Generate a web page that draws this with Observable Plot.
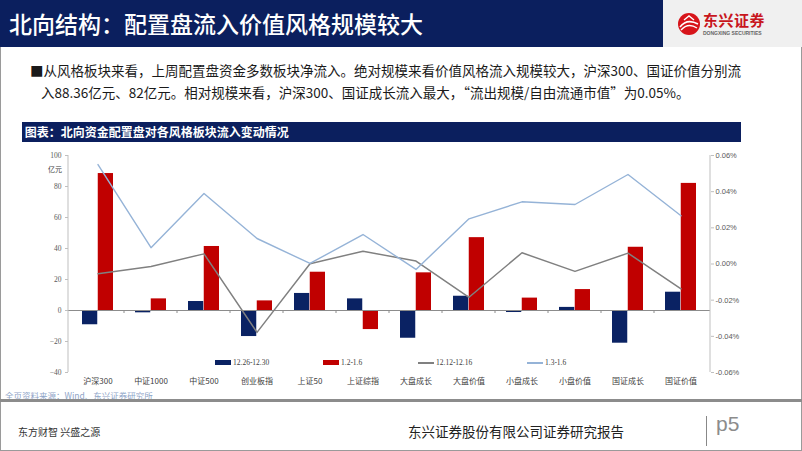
<!DOCTYPE html>
<html><head><meta charset="utf-8">
<script src="https://cdn.jsdelivr.net/npm/d3@7"></script>
<script src="https://cdn.jsdelivr.net/npm/@observablehq/plot@0.6"></script>
<style>
html,body{margin:0;padding:0;}
body{width:802px;height:451px;position:relative;overflow:hidden;background:#fff;font-family:"Noto Sans CJK SC",sans-serif;}
.abs{position:absolute;white-space:nowrap;}
#border{left:0;top:0;width:800px;height:449px;border:1px solid #9a9a9a;}
#head{left:0;top:0;width:663px;height:47px;background:#0b1f5e;}
#headTitle{left:9px;top:7px;font-size:23px;line-height:32px;color:#fff;font-weight:500;}
#logoBox{left:663px;top:0;width:139px;height:47px;background:#f0f0f0;}
#logoText{left:703px;top:11px;font-size:15px;font-weight:700;color:#c8161d;line-height:18px;letter-spacing:0.5px;}
#logoSub{left:703px;top:30px;font-size:5px;color:#666;font-family:"Liberation Sans";font-weight:700;line-height:6px;}
#bullet{left:30px;top:59px;font-size:13.5px;line-height:22px;color:#1a1a1a;}
#ctitle{left:22px;top:122px;width:719px;height:20px;background:#0b1f5e;color:#fff;font-size:12px;font-weight:700;line-height:20px;}
#chart{left:0;top:145px;}
#unit{left:48px;top:164px;font-size:7px;color:#404040;}
#legend{left:215px;top:358px;font-family:"Liberation Serif";font-size:7.5px;color:#404040;display:flex;}
.li{display:flex;align-items:center;}
.sw{display:inline-block;width:16px;margin-right:2px;}
#source{left:5px;top:389px;font-size:8.5px;color:#8fa5c8;}
#rule{left:0;top:399px;width:802px;height:3px;background:#8c8c8c;}
#foot1{left:18px;top:424px;font-size:10px;color:#333;}
#foot2{left:408px;top:421px;font-size:13.5px;color:#222;}
#vbar{left:706px;top:416px;width:1px;height:30px;background:#888;}
#p5{left:716px;top:412px;font-size:21px;color:#8c8c8c;font-family:"Liberation Sans";}
</style></head>
<body>
<div class="abs" id="border"></div>
<div class="abs" id="head"></div>
<div class="abs" id="headTitle">北向结构：配置盘流入价值风格规模较大</div>
<div class="abs" id="logoBox"></div>
<svg class="abs" style="left:677px;top:12px" width="24" height="24" viewBox="0 0 24 24">
  <circle cx="12" cy="12" r="11" fill="#d7141a"/>
  <path d="M3 15 Q10 6 21 12" stroke="#fff" stroke-width="1.6" fill="none"/>
  <path d="M4 18 Q11 10 20 16" stroke="#fff" stroke-width="1.4" fill="none"/>
  <path d="M7 8 L12 4 L17 8" stroke="#fff" stroke-width="1.4" fill="none"/>
</svg>
<div class="abs" id="logoText">东兴证券</div>
<div class="abs" id="logoSub">DONGXING SECURITIES</div>
<div class="abs" id="bullet">■从风格板块来看，上周配置盘资金多数板块净流入。绝对规模来看价值风格流入规模较大，沪深300、国证价值分别流<br><span style="padding-left:11px">入88.36亿元、82亿元。相对规模来看，沪深300、国证成长流入最大，“流出规模/自由流通市值”为0.05%。</span></div>
<div class="abs" id="ctitle">&nbsp;图表：北向资金配置盘对各风格板块流入变动情况</div>
<div class="abs" id="chart"></div>
<div class="abs" id="unit">亿元</div>
<div class="abs" id="legend"></div>
<div class="abs" id="source">全页资料来源：Wind、东兴证券研究所</div>
<div class="abs" id="rule"></div>
<div class="abs" id="foot1">东方财智 兴盛之源</div>
<div class="abs" id="foot2">东兴证券股份有限公司证券研究报告</div>
<div class="abs" id="vbar"></div>
<div class="abs" id="p5">p5</div>
<script>
const categories = ["沪深300","中证1000","中证500","创业板指","上证50","上证综指","大盘成长","大盘价值","小盘成长","小盘价值","国证成长","国证价值"];
const flow1226 = [-9.2,-1.5,5.8,-16.8,11,7.5,-17.9,9.2,-1.3,2,-21.1,11.8];      // 亿元
const flow0102 = [88.36,7.5,41.3,6.2,24.7,-12.3,24.3,47,8,13.5,40.8,82];        // 亿元
const ratio1212 = [-0.0054,-0.0014,0.0056,-0.0378,0.0001,0.0071,0.0016,-0.0184,0.0062,-0.0041,0.006,-0.0137]; // %
const ratio0103 = [0.055,0.009,0.039,0.0141,0.0003,0.0163,-0.003,0.025,0.0344,0.0329,0.0495,0.0267];          // %
const seriesNames = ["12.26-12.30","1.2-1.6","12.12-12.16","1.3-1.6"];
const leftTicks = [-40,-20,0,20,40,60,80,100];
const rightTicks = [-0.06,-0.04,-0.02,0,0.02,0.04,0.06];

const colors = {"12.26-12.30":"#0a2263","1.2-1.6":"#c00000","12.12-12.16":"#808080","1.3-1.6":"#95b3d7"};

// map right-axis (%) values onto left-axis units
const L0 = leftTicks[0], L1 = leftTicks[leftTicks.length-1];
const R0 = rightTicks[0], R1 = rightTicks[rightTicks.length-1];
const toLeft = r => L0 + (r - R0) / (R1 - R0) * (L1 - L0);
const fromLeft = v => R0 + (v - L0) / (L1 - L0) * (R1 - R0);

const bars1 = categories.map((c,i)=>({c, v: flow1226[i]}));
const bars2 = categories.map((c,i)=>({c, v: flow0102[i]}));
const line1 = categories.map((c,i)=>({c, v: toLeft(ratio1212[i])}));
const line2 = categories.map((c,i)=>({c, v: toLeft(ratio0103[i])}));

function axisLines(index, scales, values, dims) {
  const {width, height, marginLeft, marginRight, marginTop, marginBottom} = dims;
  const g = d3.create("svg:g").attr("stroke", "#bfbfbf").attr("stroke-width", 1);
  g.append("line").attr("x1", marginLeft).attr("x2", marginLeft).attr("y1", marginTop).attr("y2", height - marginBottom);
  g.append("line").attr("x1", width - marginRight).attr("x2", width - marginRight).attr("y1", marginTop).attr("y2", height - marginBottom);
  const y0 = scales.y(0);
  categories.forEach((c,i)=>{ if (i>0) { const x = scales.x(c); g.append("line").attr("x1",x).attr("x2",x).attr("y1",y0).attr("y2",y0+3).attr("stroke","#8c8c8c"); }});
  return g.node();
}

const chart = Plot.plot({
  width: 802, height: 245,
  marginLeft: 68, marginRight: 92, marginTop: 10, marginBottom: 18,
  style: {background: "transparent"},
  x: {type: "band", domain: categories, padding: 0, label: null},
  y: {domain: [L0, L1], label: null},
  marks: [
    Plot.barY(bars1, {x: "c", y: "v", fill: colors["12.26-12.30"], insetLeft: 11, insetRight: 26.75}),
    Plot.barY(bars2, {x: "c", y: "v", fill: colors["1.2-1.6"], insetLeft: 26.75, insetRight: 11}),
    Plot.ruleY([0], {stroke: "#8c8c8c", strokeWidth: 1.2}),
    Plot.line(line1, {x: "c", y: "v", stroke: colors["12.12-12.16"], strokeWidth: 1.5}),
    Plot.line(line2, {x: "c", y: "v", stroke: colors["1.3-1.6"], strokeWidth: 1.4}),
    axisLines,
    Plot.axisY({anchor: "left", ticks: leftTicks, tickSize: 3, tickPadding: 4, fontSize: 7.5, fontFamily: "Liberation Serif", fill: "#595959", stroke: "#bfbfbf", label: null}),
    Plot.axisY(rightTicks.map(toLeft), {anchor: "right", tickSize: 3, tickPadding: 2, fontSize: 7.5, fontFamily: "Liberation Sans", fill: "#595959", stroke: "#bfbfbf", label: null, tickFormat: v => fromLeft(v).toFixed(2) + "%"}),
    Plot.axisX({anchor: "bottom", tickSize: 0, tickPadding: 6, fontSize: 8, fontFamily: "Noto Sans CJK SC", fill: "#404040", label: null})
  ]
});
document.getElementById("chart").appendChild(chart);

// legend
const legend = document.getElementById("legend");
const slotWidths = [108, 95, 109, 60];
seriesNames.forEach((s,i)=>{
  const item = document.createElement("div");
  item.className = "li";
  item.style.width = slotWidths[i] + "px";
  const sw = document.createElement("span");
  sw.className = "sw";
  sw.style.background = colors[s];
  sw.style.height = i < 2 ? "5px" : "2px";
  item.appendChild(sw);
  item.appendChild(document.createTextNode(s));
  legend.appendChild(item);
});
</script>
</body></html>
